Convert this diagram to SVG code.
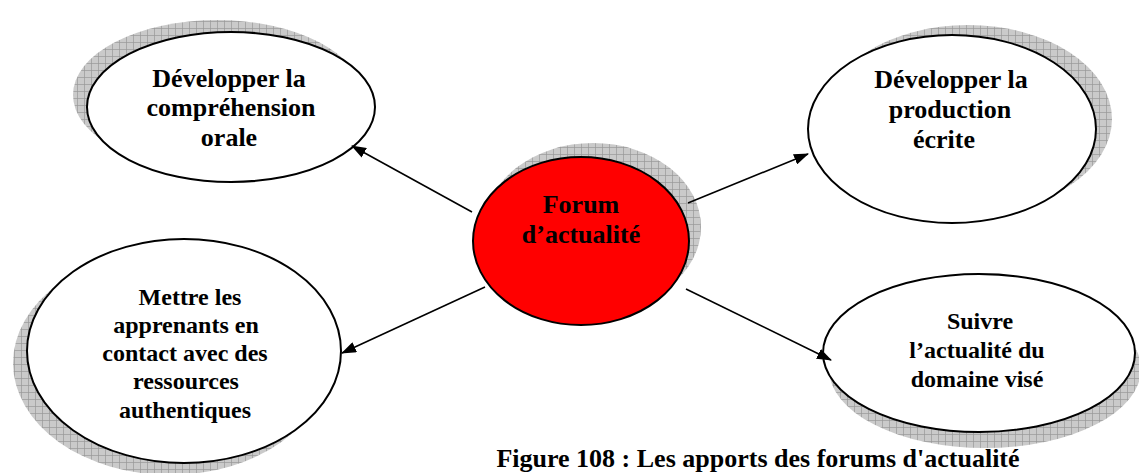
<svg xmlns="http://www.w3.org/2000/svg" width="1139" height="473" viewBox="0 0 1139 473">
<defs>
<pattern id="grid" width="7" height="7" patternUnits="userSpaceOnUse">
<rect width="7" height="7" fill="#cacaca"/>
<path d="M0 0.5H7M0.5 0V7" stroke="#989898" stroke-width="0.7"/>
</pattern>
<marker id="ah" markerWidth="15" markerHeight="11" refX="14" refY="5.5" orient="auto" markerUnits="userSpaceOnUse">
<path d="M0 0L15 5.5L0 11Z" fill="#000"/>
</marker>
<style>
.sh{fill:url(#grid);}
.nd{fill:#fff;stroke:#000;stroke-width:2;}
.red{fill:#ff0000;stroke:#000;stroke-width:2;}
text{font-family:"Liberation Serif","Times New Roman",serif;font-weight:bold;fill:#000;text-anchor:middle;}
.t26{font-size:26px;}
.t24{font-size:24px;}
.cn{stroke:#000;stroke-width:1.6;fill:none;marker-end:url(#ah);}
</style>
</defs>
<rect width="1139" height="473" fill="#fff"/>
<g id="node-comprehension">
<ellipse class="sh" cx="217" cy="95" rx="144" ry="75"/>
<ellipse class="nd" cx="231" cy="107" rx="144" ry="75"/>
<text class="t26" x="229" y="87">Développer la</text>
<text class="t26" x="231" y="116">compréhension</text>
<text class="t26" x="229" y="146">orale</text>
</g>
<g id="node-production">
<ellipse class="sh" cx="968" cy="119" rx="144" ry="94"/>
<ellipse class="nd" cx="952" cy="129" rx="144" ry="94"/>
<text class="t26" x="951" y="88">Développer la</text>
<text class="t26" x="950" y="118">production</text>
<text class="t26" x="944" y="148">écrite</text>
</g>
<g id="node-forum">
<ellipse class="sh" cx="593" cy="227" rx="108" ry="84"/>
<ellipse class="red" cx="581" cy="241" rx="108" ry="84"/>
<text class="t26" x="581" y="213">Forum</text>
<text class="t26" x="581" y="243">d’actualité</text>
</g>
<g id="node-ressources">
<ellipse class="sh" cx="170" cy="363" rx="157" ry="112"/>
<ellipse class="nd" cx="184" cy="351" rx="157" ry="112"/>
<text class="t24" x="190" y="305">Mettre les</text>
<text class="t24" x="186" y="333">apprenants en</text>
<text class="t24" x="185" y="361">contact avec des</text>
<text class="t24" x="186" y="389">ressources</text>
<text class="t24" x="185" y="418">authentiques</text>
</g>
<g id="node-actualite">
<ellipse class="sh" cx="985" cy="369" rx="156" ry="79"/>
<ellipse class="nd" cx="979" cy="353" rx="156" ry="79"/>
<text class="t24" x="980" y="329">Suivre</text>
<text class="t24" x="977" y="358">l’actualité du</text>
<text class="t24" x="977" y="387">domaine visé</text>
</g>
<g id="connectors">
<line class="cn" x1="472" y1="212" x2="352" y2="146"/>
<line class="cn" x1="688" y1="203" x2="808" y2="154"/>
<line class="cn" x1="485" y1="287" x2="342" y2="353"/>
<line class="cn" x1="686" y1="289" x2="831" y2="360"/>
</g>
<text id="caption" x="758" y="467" style="font-size:26px">Figure 108 : Les apports des forums d'actualité</text>
</svg>
